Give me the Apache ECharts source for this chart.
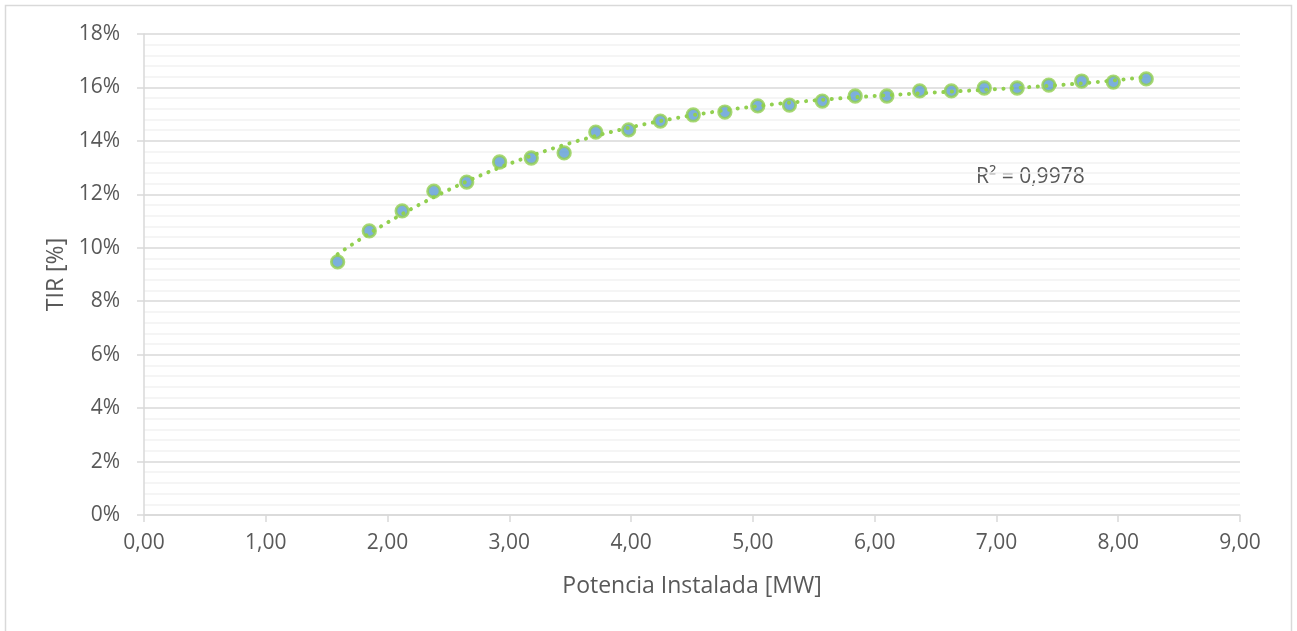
<!DOCTYPE html>
<html>
<head>
<meta charset="utf-8">
<script src="https://cdn.jsdelivr.net/npm/echarts@6/dist/echarts.min.js"></script>
<style>
html,body{margin:0;padding:0;background:#fff;}
#c{width:1297px;height:631px;}
</style>
</head>
<body>
<div id="c"></div>
<script>
// Data
var potenciaMW = [1.59, 1.85, 2.12, 2.38, 2.65, 2.92, 3.18, 3.45, 3.71, 3.98, 4.24, 4.51, 4.77, 5.04, 5.30, 5.57, 5.84, 6.10, 6.37, 6.63, 6.90, 7.17, 7.43, 7.70, 7.96, 8.23];
var tirPct = [9.47, 10.63, 11.38, 12.12, 12.46, 13.21, 13.36, 13.55, 14.33, 14.41, 14.74, 14.97, 15.08, 15.31, 15.34, 15.49, 15.68, 15.68, 15.87, 15.87, 15.98, 15.98, 16.09, 16.24, 16.20, 16.32];
var yTicks = [0, 2, 4, 6, 8, 10, 12, 14, 16, 18];
var xTicks = [0, 1, 2, 3, 4, 5, 6, 7, 8, 9];
var r2Label = 'R² = 0,9978';

// least-squares polynomial trendline (degree 3) fitted to the data
function polyFit(xs, ys, deg) {
  var n = deg + 1, A = [], b = [];
  for (var i = 0; i < n; i++) {
    A.push([]); b.push(0);
    for (var j = 0; j < n; j++) A[i].push(0);
  }
  for (var k = 0; k < xs.length; k++) {
    for (var i = 0; i < n; i++) {
      b[i] += ys[k] * Math.pow(xs[k], i);
      for (var j = 0; j < n; j++) A[i][j] += Math.pow(xs[k], i + j);
    }
  }
  for (var i = 0; i < n; i++) {
    var p = i;
    for (var r = i + 1; r < n; r++) if (Math.abs(A[r][i]) > Math.abs(A[p][i])) p = r;
    var t = A[i]; A[i] = A[p]; A[p] = t; var tb = b[i]; b[i] = b[p]; b[p] = tb;
    for (var r = i + 1; r < n; r++) {
      var f = A[r][i] / A[i][i];
      for (var c = i; c < n; c++) A[r][c] -= f * A[i][c];
      b[r] -= f * b[i];
    }
  }
  var coef = new Array(n);
  for (var i = n - 1; i >= 0; i--) {
    var s = b[i];
    for (var c = i + 1; c < n; c++) s -= A[i][c] * coef[c];
    coef[i] = s / A[i][i];
  }
  return coef;
}
var coef = polyFit(potenciaMW, tirPct, 3);
var trend = [];
var x0 = potenciaMW[0], x1 = potenciaMW[potenciaMW.length - 1];
for (var i = 0; i <= 120; i++) {
  var x = x0 + (x1 - x0) * i / 120;
  var y = 0;
  for (var d = 0; d < coef.length; d++) y += coef[d] * Math.pow(x, d);
  trend.push([x, y]);
}

var pts = potenciaMW.map(function (x, i) { return [x, tirPct[i]]; });
var FONT = '"Open Sans", "Noto Sans", sans-serif';
var TXT = '#595959';

var chart = echarts.init(document.getElementById('c'), null, { renderer: 'canvas' });
chart.setOption({
  backgroundColor: '#ffffff',
  animation: false,
  grid: { left: 144, right: 57, top: 34, bottom: 116, containLabel: false },
  xAxis: {
    type: 'value',
    min: xTicks[0], max: xTicks[xTicks.length - 1], interval: 1,
    name: 'Potencia Instalada [MW]',
    nameLocation: 'middle', nameGap: 71,
    nameTextStyle: { fontFamily: FONT, fontSize: 23, color: TXT, verticalAlign: 'middle' },
    axisLine: { show: true, lineStyle: { color: '#d9d9d9', width: 1.5 } },
    axisTick: { show: true, inside: false, length: 7, lineStyle: { color: '#d9d9d9', width: 1.5 } },
    axisLabel: { fontFamily: FONT, fontSize: 21, color: TXT, margin: 18,
      formatter: function (v) { return v.toFixed(2).replace('.', ','); } },
    splitLine: { show: false }
  },
  yAxis: {
    type: 'value',
    min: yTicks[0], max: yTicks[yTicks.length - 1], interval: 2,
    name: 'TIR [%]',
    nameLocation: 'middle', nameGap: 87,
    nameTextStyle: { fontFamily: FONT, fontSize: 23, color: TXT, verticalAlign: 'middle' },
    axisLine: { show: true, lineStyle: { color: '#d9d9d9', width: 1.5 } },
    axisTick: { show: true, inside: false, length: 7, lineStyle: { color: '#d9d9d9', width: 1.5 } },
    axisLabel: { fontFamily: FONT, fontSize: 21, color: TXT, margin: 24,
      formatter: function (v) { return v + '%'; } },
    splitLine: { show: true, lineStyle: { color: '#d9d9d9', width: 1.5 } },
    minorTick: { show: false, splitNumber: 5 },
    minorSplitLine: { show: true, lineStyle: { color: '#f2f2f2', width: 1.5 } }
  },
  series: [
    {
      type: 'scatter',
      data: pts,
      symbol: 'circle',
      symbolSize: 12.5,
      itemStyle: { color: '#5b9bd5', borderColor: '#92d050', borderWidth: 2.8 },
      z: 2
    },
    {
      type: 'line',
      data: trend,
      showSymbol: false,
      smooth: false,
      lineStyle: { color: '#92d050', width: 4, type: [0.1, 8.5], cap: 'round' },
      z: 3,
      silent: true
    }
  ],
  graphic: [
    { type: 'rect', shape: { x: 5.5, y: 5.5, width: 1286, height: 640 },
      style: { fill: 'none', stroke: '#d9d9d9', lineWidth: 1.5 }, z: -1 },
    { type: 'text', left: 976, top: 167,
      style: { text: r2Label, fontFamily: FONT, fontSize: 21, fill: TXT } }
  ]
});
</script>
</body>
</html>
